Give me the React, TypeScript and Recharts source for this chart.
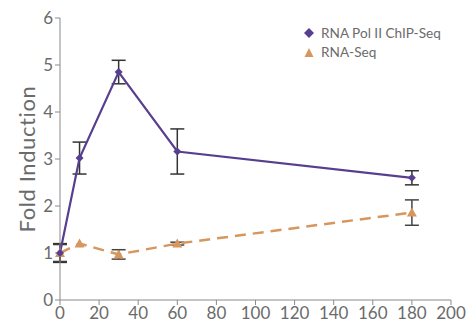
import { LineChart, Line, XAxis, YAxis, ErrorBar } from 'recharts';

const minutes = [0, 10, 30, 60, 180];
const chipSeq = [1.0, 3.02, 4.85, 3.16, 2.6];
const chipSeqErr = [0.2, 0.34, 0.25, 0.48, 0.15];
const rnaSeq = [1.0, 1.2, 0.97, 1.2, 1.86];
const rnaSeqErr = [0.18, 0, 0.1, 0.03, 0.27];
const xTicks = [0, 20, 40, 60, 80, 100, 120, 140, 160, 180, 200];
const yTicks = [0, 1, 2, 3, 4, 5, 6];

const PURPLE = '#573E8F';
const ORANGE = '#D6965E';
const AXIS = '#8a8a8a';
const TEXT = '#6b6b6b';

const data = minutes.map((t, i) => ({
  t,
  chip: chipSeq[i],
  chipErr: chipSeqErr[i],
  rna: rnaSeq[i],
  rnaErr: rnaSeqErr[i],
}));

function Diamond(props: any) {
  const { cx, cy } = props;
  if (cx == null || cy == null) return null;
  const r = 4;
  return <path d={`M${cx},${cy - r}L${cx + r},${cy}L${cx},${cy + r}L${cx - r},${cy}Z`} fill={PURPLE} />;
}

function Triangle(props: any) {
  const { cx, cy } = props;
  if (cx == null || cy == null) return null;
  return <path d={`M${cx},${cy - 5}L${cx + 5},${cy + 4}L${cx - 5},${cy + 4}Z`} fill={ORANGE} />;
}

function LegendBox() {
  const font = { fontFamily: 'Lato, sans-serif', fontSize: 13.6, color: TEXT };
  return (
    <div style={{ position: 'absolute', left: 303, top: 23, ...font }}>
      <div style={{ display: 'flex', alignItems: 'center', height: 19 }}>
        <svg width={12} height={12} style={{ marginRight: 6 }}>
          <path d="M6,1L11,6L6,11L1,6Z" fill={PURPLE} />
        </svg>
        RNA Pol II ChIP-Seq
      </div>
      <div style={{ display: 'flex', alignItems: 'center', height: 19 }}>
        <svg width={12} height={12} style={{ marginRight: 6 }}>
          <path d="M6,2L10.5,11L1.5,11Z" fill={ORANGE} />
        </svg>
        RNA-Seq
      </div>
    </div>
  );
}

function YLabel(props: any) {
  const { viewBox } = props;
  const y = viewBox.y + viewBox.height / 2;
  const x = 26;
  return (
    <text
      x={x}
      y={y}
      transform={`rotate(-90, ${x}, ${y})`}
      textAnchor="middle"
      dominantBaseline="central"
      fill={TEXT}
      fontSize={22}
      fontFamily="Lato, sans-serif"
      letterSpacing={0.6}
    >
      Fold Induction
    </text>
  );
}

export default function App() {
  const tick = { fill: TEXT, fontSize: 17, fontFamily: 'Lato, sans-serif' };
  return (
    <div style={{ position: 'absolute', left: 0, top: 0, width: 476, height: 327, background: '#fff' }}>
      <LineChart
        width={476}
        height={327}
        data={data}
        margin={{ top: 18, right: 25, bottom: 0, left: 0 }}
      >
        <XAxis
          dataKey="t"
          type="number"
          domain={[0, 200]}
          ticks={xTicks}
          stroke={AXIS}
          tick={tick}
          tickSize={5}
          height={27}
          interval={0}
        />
        <YAxis
          type="number"
          domain={[0, 6]}
          ticks={yTicks}
          stroke={AXIS}
          tick={tick}
          tickSize={5}
          width={60}
          interval={0}
          label={<YLabel />}
        />
        <Line
          dataKey="rna"
          stroke={ORANGE}
          strokeWidth={2.5}
          strokeDasharray="11 7"
          dot={<Triangle />}
          activeDot={false}
          isAnimationActive={false}
        >
          <ErrorBar dataKey="rnaErr" width={7} stroke="#444" strokeWidth={1.5} direction="y" />
        </Line>
        <Line
          dataKey="chip"
          stroke={PURPLE}
          strokeWidth={2.2}
          dot={<Diamond />}
          activeDot={false}
          isAnimationActive={false}
        >
          <ErrorBar dataKey="chipErr" width={7} stroke="#333" strokeWidth={1.5} direction="y" />
        </Line>
      </LineChart>
      <LegendBox />
    </div>
  );
}
